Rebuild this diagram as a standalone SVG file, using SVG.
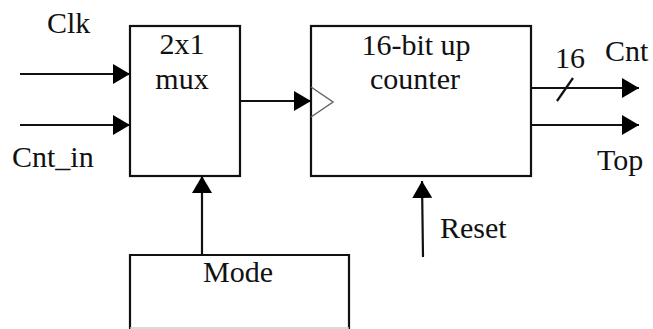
<svg xmlns="http://www.w3.org/2000/svg" width="653" height="329" viewBox="0 0 653 329">
<style>
.box{fill:#fff;stroke:#111;stroke-width:2.2}
.ln{fill:none;stroke:#111;stroke-width:2.2}
.t{font-family:'Liberation Serif','Times New Roman','DejaVu Serif',serif;font-size:30px;fill:#111}
.m{text-anchor:middle}
</style>
<defs>
<marker id="ah" markerUnits="userSpaceOnUse" markerWidth="18" markerHeight="22" refX="17" refY="10" orient="auto">
<path d="M0,0 L17,10 L0,20 Z" fill="#000"/>
</marker>
</defs>
<rect width="653" height="329" fill="#fff"/>
<g id="mux">
<rect class="box" x="130" y="26" width="110" height="150"/>
<text class="t m" x="182" y="54" font-family="Liberation Serif, serif">2x1</text>
<text class="t m" x="182" y="89">mux</text>
</g>
<g id="counter">
<rect class="box" x="311" y="26" width="220" height="150"/>
<polyline points="311,87 333,102 311,117" fill="none" stroke="#666" stroke-width="1.5"/>
<text class="t m" x="416" y="55">16-bit up</text>
<text class="t m" x="415" y="89">counter</text>
</g>
<g id="mode">
<path d="M130,329 V255 H349 V329" class="ln"/>
<line x1="130" y1="328" x2="349" y2="328" stroke="#ccc" stroke-width="1.5"/>
<text class="t m" x="238" y="282">Mode</text>
</g>
<g id="connectors">
<line class="ln" x1="20" y1="74" x2="130" y2="74" marker-end="url(#ah)"/>
<line class="ln" x1="20" y1="125" x2="130" y2="125" marker-end="url(#ah)"/>
<line class="ln" x1="240" y1="101" x2="311" y2="101" marker-end="url(#ah)"/>
<line class="ln" x1="531" y1="88" x2="639" y2="88" marker-end="url(#ah)"/>
<line class="ln" x1="531" y1="125" x2="639" y2="125" marker-end="url(#ah)"/>
<line class="ln" x1="557" y1="101" x2="573" y2="78" stroke-width="1.8"/>
<line class="ln" x1="202" y1="255" x2="202" y2="176" marker-end="url(#ah)"/>
<line class="ln" x1="423" y1="257" x2="422" y2="181" marker-end="url(#ah)"/>
</g>
<g id="labels">
<text class="t" x="47" y="33">Clk</text>
<text class="t" x="12" y="167">Cnt_in</text>
<text class="t m" x="570" y="68">16</text>
<text class="t" x="605" y="61">Cnt</text>
<text class="t" x="597" y="170">Top</text>
<text class="t" x="440" y="238">Reset</text>
</g>
</svg>
